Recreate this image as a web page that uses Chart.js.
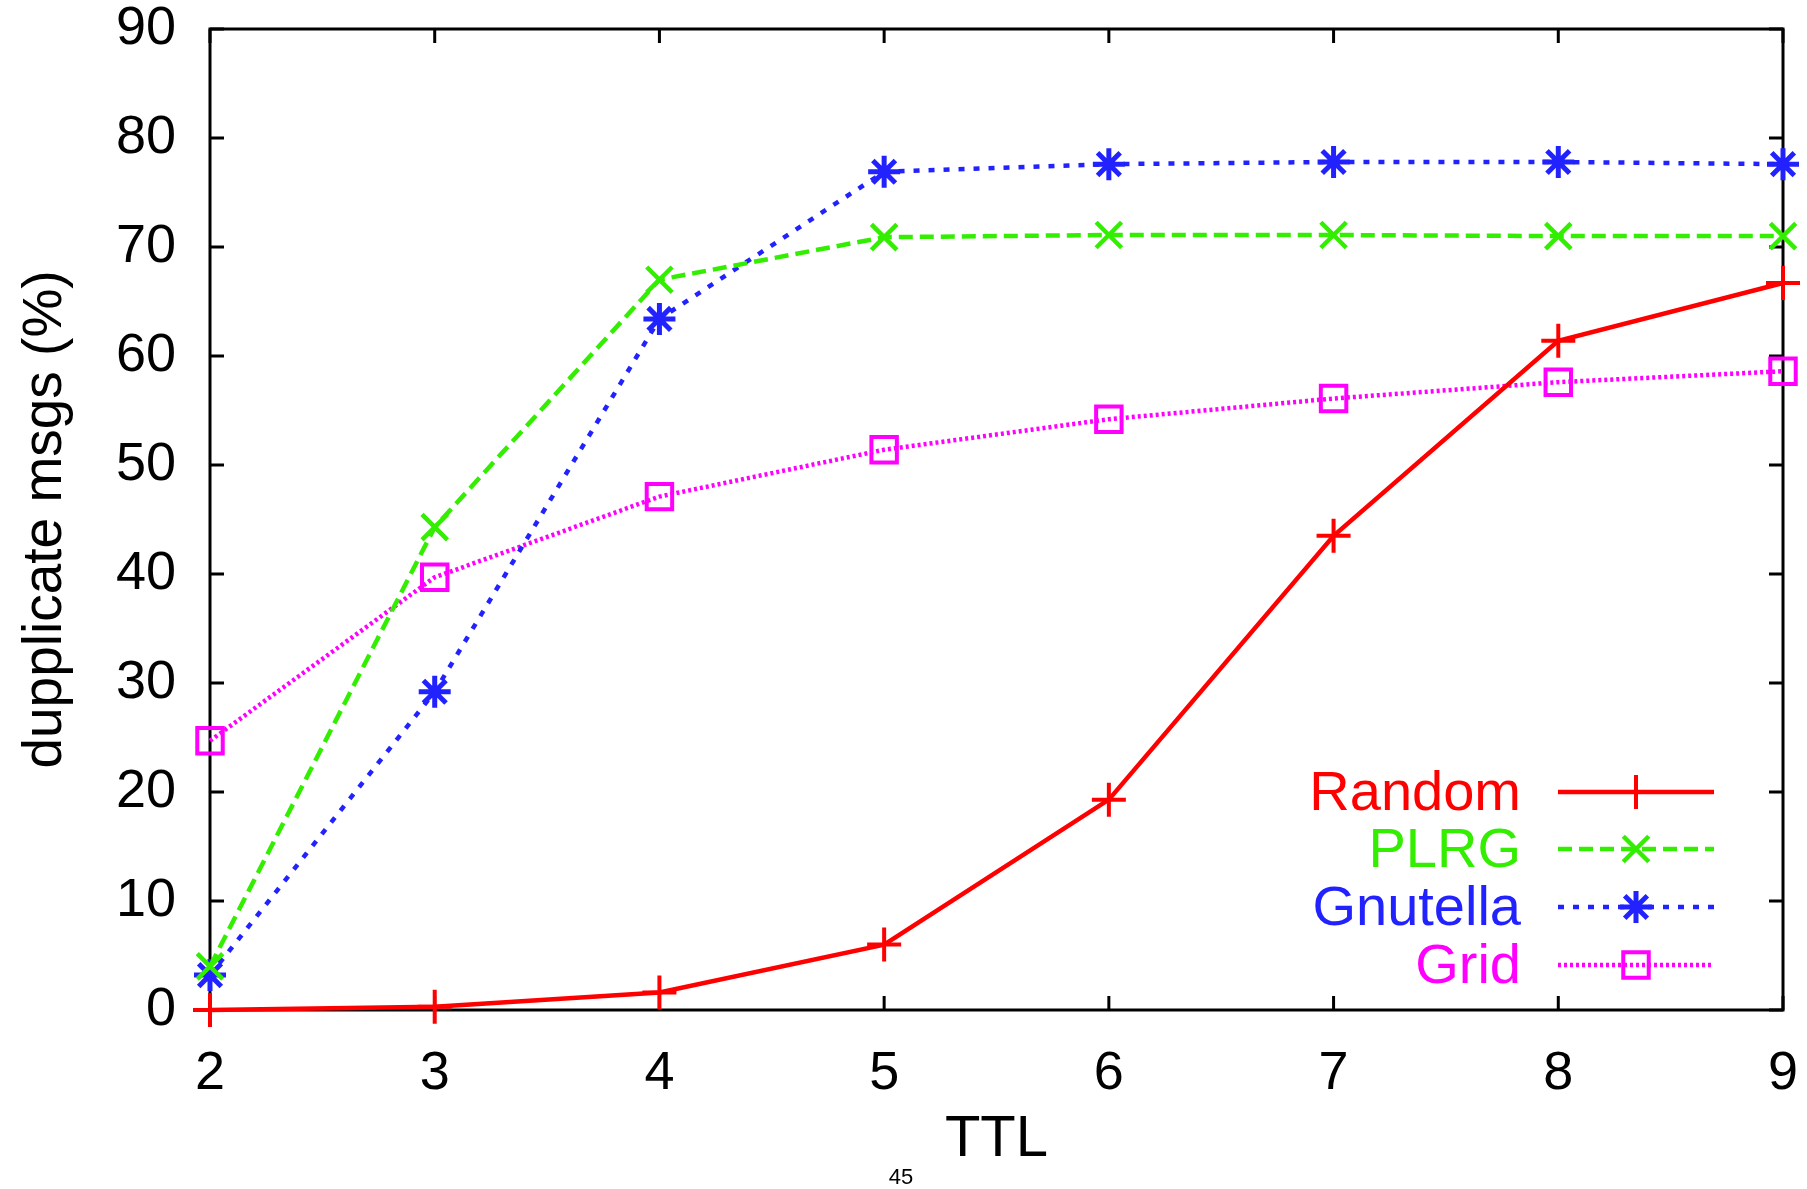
<!DOCTYPE html>
<html>
<head>
<meta charset="utf-8">
<script src="https://cdn.jsdelivr.net/npm/chart.js@4"></script>
<style>
  html, body { margin: 0; padding: 0; background: #fff; }
  #wrap { width: 1807px; height: 1189px; }
</style>
</head>
<body>
<div id="wrap"><canvas id="chart1" width="1807" height="1189"></canvas></div>
<script>
// values
const ttl = [2, 3, 4, 5, 6, 7, 8, 9];
const randomPct   = [0.0, 0.3, 1.6, 6.0, 19.3, 43.5, 61.4, 66.7];
const plrgPct     = [4.0, 44.3, 67.0, 70.9, 71.1, 71.1, 71.0, 71.0];
const gnutellaPct = [3.2, 29.2, 63.4, 76.9, 77.6, 77.8, 77.8, 77.6];
const gridPct     = [24.7, 39.7, 47.1, 51.4, 54.2, 56.1, 57.6, 58.6];
const seriesNames = ["Random", "PLRG", "Gnutella", "Grid"];
const yMin = 0, yMax = 90, yStep = 10;
const xMin = 2, xMax = 9;

const FONT = '"Liberation Sans", Arial, Helvetica, sans-serif';

function points(ys) {
  return ttl.map((t, i) => ({ x: t, y: ys[i] }));
}

// box around the plot with inward ticks on all four sides (gnuplot style)
const framePlugin = {
  id: 'frame',
  beforeDatasetsDraw(chart) {
    const { ctx, chartArea: a, scales: { x, y } } = chart;
    const len = 14;
    ctx.save();
    ctx.strokeStyle = '#000';
    ctx.lineWidth = 3;
    ctx.strokeRect(a.left, a.top, a.right - a.left, a.bottom - a.top);
    ctx.beginPath();
    x.ticks.forEach(t => {
      const px = x.getPixelForValue(t.value);
      ctx.moveTo(px, a.bottom); ctx.lineTo(px, a.bottom - len);
      ctx.moveTo(px, a.top); ctx.lineTo(px, a.top + len);
    });
    y.ticks.forEach(t => {
      const py = y.getPixelForValue(t.value);
      ctx.moveTo(a.left, py); ctx.lineTo(a.left + len, py);
      ctx.moveTo(a.right, py); ctx.lineTo(a.right - len, py);
    });
    ctx.stroke();
    ctx.restore();
  }
};

// legend inside the plot, bottom right: coloured text then line sample with marker
const keyPlugin = {
  id: 'key',
  afterDraw(chart) {
    const { ctx, chartArea: a } = chart;
    const textRight = a.right - 262;
    const lineStart = a.right - 225;
    const lineEnd = a.right - 69;
    const rowsFromBottom = [218, 161, 103, 45];
    ctx.save();
    ctx.font = '56px ' + FONT;
    ctx.textAlign = 'right';
    ctx.textBaseline = 'middle';
    chart.data.datasets.forEach((ds, i) => {
      const yy = a.bottom - rowsFromBottom[i];
      ctx.fillStyle = ds.borderColor;
      ctx.fillText(ds.label, textRight, yy + 3);
      ctx.strokeStyle = ds.borderColor;
      ctx.lineWidth = ds.borderWidth;
      ctx.setLineDash(ds.borderDash || []);
      ctx.beginPath();
      ctx.moveTo(lineStart, yy); ctx.lineTo(lineEnd, yy);
      ctx.stroke();
      ctx.setLineDash([]);
      ctx.fillStyle = 'rgba(0,0,0,0)';
      ctx.lineWidth = ds.pointBorderWidth;
      Chart.helpers.drawPoint(ctx, {
        pointStyle: ds.pointStyle, radius: ds.pointRadius,
        rotation: 0, borderWidth: ds.pointBorderWidth
      }, (lineStart + lineEnd) / 2, yy);
    });
    // page number under the figure
    ctx.fillStyle = '#000';
    ctx.textAlign = 'center';
    ctx.font = '22px ' + FONT;
    ctx.fillText('45', 901, 1178);
    ctx.restore();
  }
};

const ctx = document.getElementById('chart1').getContext('2d');
new Chart(ctx, {
  type: 'line',
  data: {
    datasets: [
      {
        label: seriesNames[0], data: points(randomPct),
        borderColor: '#ff0000', borderWidth: 4.5,
        pointStyle: 'cross', pointRadius: 17, pointBorderWidth: 4,
        pointBackgroundColor: 'rgba(0,0,0,0)'
      },
      {
        label: seriesNames[1], data: points(plrgPct),
        borderColor: '#33ee00', borderWidth: 4.5, borderDash: [14, 7],
        pointStyle: 'crossRot', pointRadius: 18, pointBorderWidth: 4.5,
        pointBackgroundColor: 'rgba(0,0,0,0)'
      },
      {
        label: seriesNames[2], data: points(gnutellaPct),
        borderColor: '#2222ff', borderWidth: 4.5, borderDash: [6, 9],
        pointStyle: 'star', pointRadius: 16, pointBorderWidth: 5,
        pointBackgroundColor: 'rgba(0,0,0,0)'
      },
      {
        label: seriesNames[3], data: points(gridPct),
        borderColor: '#ff00ff', borderWidth: 4.5, borderDash: [3, 3],
        pointStyle: 'rect', pointRadius: 18, pointBorderWidth: 4,
        pointBackgroundColor: 'rgba(0,0,0,0)'
      }
    ]
  },
  options: {
    responsive: false,
    animation: false,
    clip: false,
    layout: { padding: { left: 0, right: 24, top: 29, bottom: 0 } },
    elements: { line: { tension: 0, fill: false } },
    scales: {
      x: {
        type: 'linear', min: xMin, max: xMax,
        grid: { display: false, drawTicks: false },
        border: { display: false },
        ticks: { stepSize: 1, padding: 32, color: '#000', font: { family: FONT, size: 54 } },
        title: {
          display: true, text: 'TTL', color: '#000',
          font: { family: FONT, size: 58, lineHeight: 1 },
          padding: { top: 0, bottom: 20 }
        },
        afterFit: (scale) => {
          scale.height = 179;
          scale.paddingLeft = 0;
          scale.paddingRight = 0;
        }
      },
      y: {
        min: yMin, max: yMax,
        grid: { display: false, drawTicks: false },
        border: { display: false },
        ticks: { stepSize: yStep, padding: 34, color: '#000', font: { family: FONT, size: 54 } },
        title: {
          display: true, text: 'dupplicate msgs (%)', color: '#000',
          font: { family: FONT, size: 55, lineHeight: 1 },
          padding: { top: 18, bottom: 0 }
        },
        afterFit: (scale) => {
          scale.width = 210;
          scale.paddingTop = 0;
          scale.paddingBottom = 0;
        }
      }
    },
    plugins: {
      legend: { display: false },
      tooltip: { enabled: false }
    }
  },
  plugins: [framePlugin, keyPlugin]
});
</script>
</body>
</html>
